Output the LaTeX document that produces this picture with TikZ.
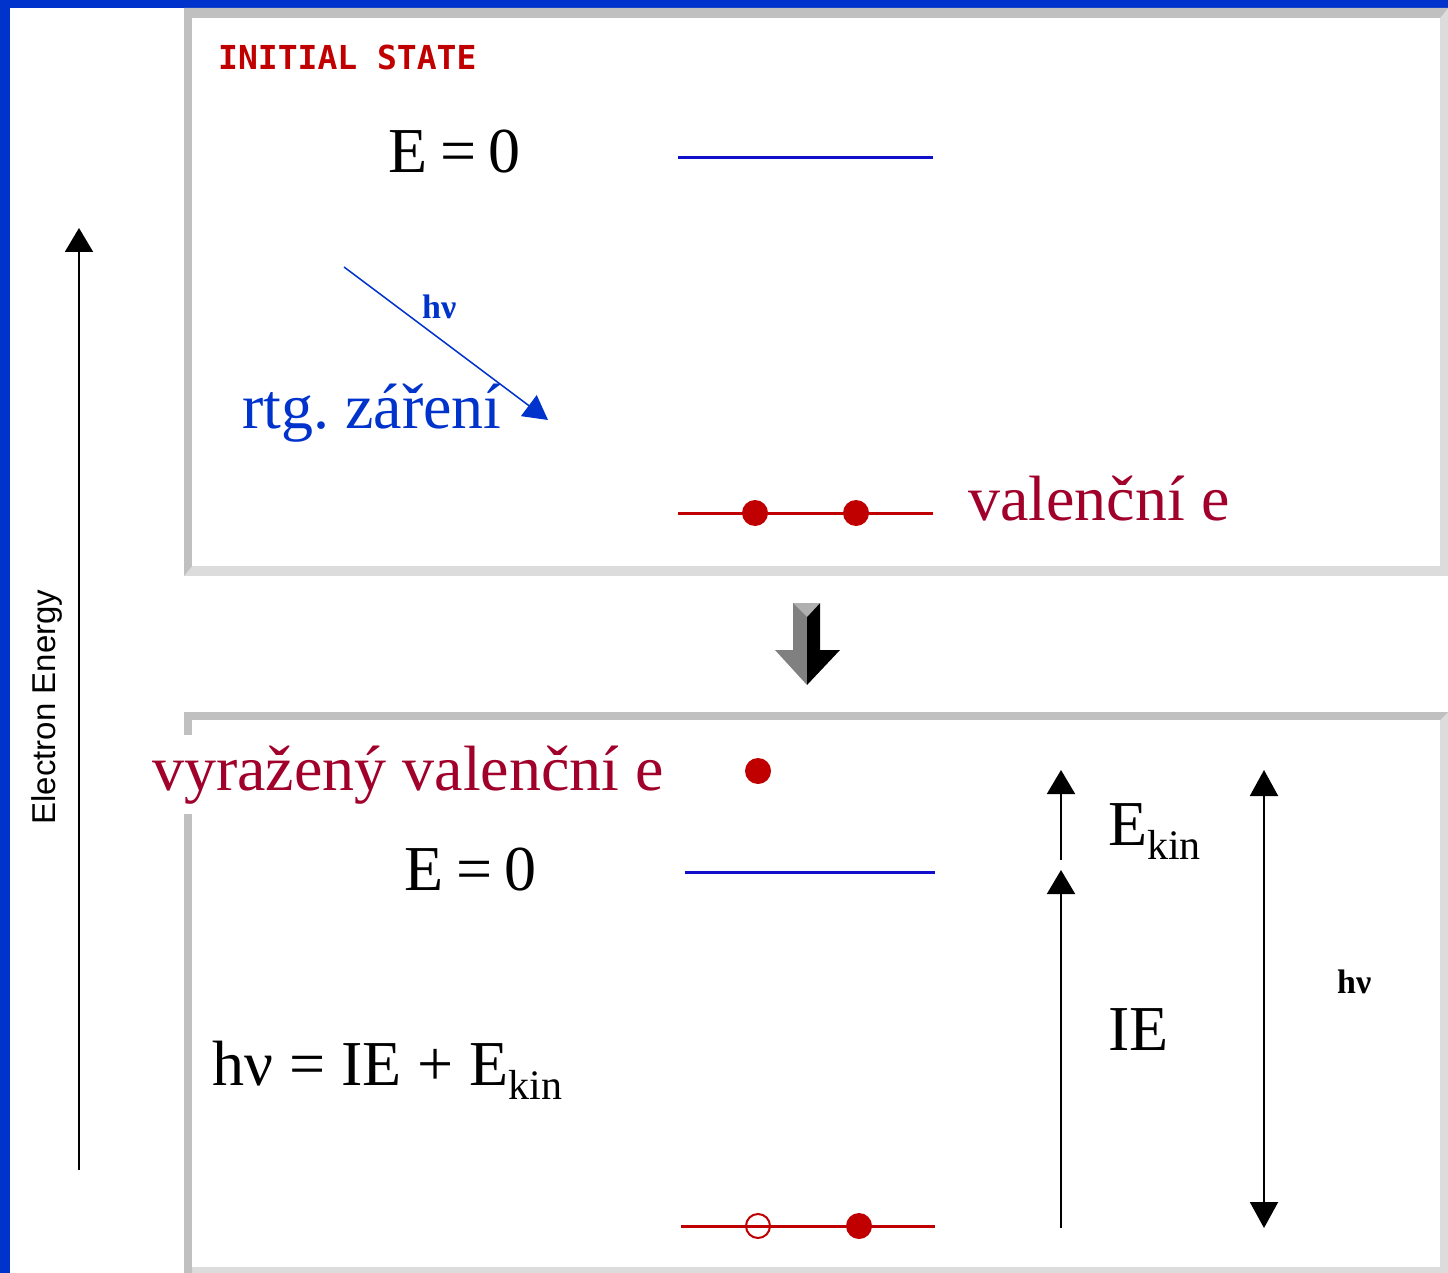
\documentclass[tikz,border=0pt]{standalone}
\usepackage{fontspec}
\setmainfont{Liberation Serif}
\newfontfamily\axisfont{Liberation Sans}
\newfontfamily\pixfont{DejaVu Sans Mono}
\usepackage{xcolor}
\usetikzlibrary{arrows.meta}

\definecolor{frameblue}{HTML}{0033CC}
\definecolor{paneldark}{HTML}{C0C0C0}
\definecolor{panellight}{HTML}{DCDCDC}
\definecolor{statered}{HTML}{C00000}
\definecolor{textred}{HTML}{A0002A}
\definecolor{lineblue}{HTML}{1010CC}
\definecolor{rayblue}{HTML}{0033CC}
\definecolor{arrowgray}{HTML}{808080}
\definecolor{arrowlight}{HTML}{B0B0B0}

\newcommand{\bigtext}{\fontsize{64}{64}\selectfont}
\newcommand{\ekin}{E\raisebox{-0.22em}{\fontsize{42}{42}\selectfont kin}}
\newcommand{\ezero}{E\hspace{0.2em}=\hspace{0.2em}0}

\tikzset{
  big/.style={anchor=base west,inner sep=0pt,font=\bigtext},
  small/.style={anchor=base west,inner sep=0pt,font=\bfseries\fontsize{34}{34}\selectfont},
  edot/.style={circle,fill=statered,inner sep=0pt,minimum size=26pt},
  ehole/.style={circle,draw=statered,line width=2pt,inner sep=0pt,minimum size=24pt},
  level/.style={line width=3pt},
  uparrow/.style={line width=2pt,-{Triangle[width=28pt,length=24pt]}},
}

\begin{document}
\begin{tikzpicture}[x=1pt,y=-1pt]
\useasboundingbox (0,0) rectangle (1448,1273);
% frame
\fill[frameblue] (0,0) rectangle (1448,8);
\fill[frameblue] (0,0) rectangle (10,1273);
% initial state panel
\fill[panellight] (184,8) rectangle (1448,576);
\fill[paneldark] (184,8) -- (1448,8) -- (1440,18) -- (192,18) -- (192,566) -- (184,576) -- cycle;
\fill[white] (192,18) rectangle (1440,566);
% final state panel
\fill[panellight] (184,712) rectangle (1448,1273);
\fill[paneldark] (184,712) -- (1448,712) -- (1440,720) -- (192,720) -- (192,1273) -- (184,1273) -- cycle;
\fill[white] (192,720) rectangle (1440,1267);

% energy axis
\coordinate (axbot) at (79,1170);
\coordinate (axtop) at (79,228);
\draw[uparrow] (axbot) -- (axtop);
\node[rotate=90,anchor=base,inner sep=0pt,font=\axisfont\fontsize{33}{33}\selectfont] (axlabel) at (55,707) {Electron Energy};

% initial state
\node[anchor=base west,inner sep=0pt,text=statered,font=\pixfont\bfseries\fontsize{33}{33}\selectfont] (title) at (218,70) {INITIAL STATE};
\node[big] (ezero1) at (388,173) {\ezero};
\draw[lineblue,level] (678,158) -- (933,158);
\coordinate (raystart) at (344,267);
\coordinate (rayend) at (548,420);
\draw[rayblue,line width=1.5pt,-{Triangle[width=26pt,length=24pt]}] (raystart) -- (rayend);
\node[small,text=rayblue] (hvray) at (422,318) {hν};
\node[big,text=rayblue] (rtg) at (242,428) {rtg.\ záření};
\draw[statered,level] (678,513) -- (933,513);
\node[edot] (val1) at (755,513) {};
\node[edot] (val2) at (856,513) {};
\node[big,text=textred] (vallabel) at (968,520) {valenční e};

% step arrow
\fill[arrowgray] (793,603) -- (807,603) -- (807,685) -- (775,650) -- (793,650) -- cycle;
\fill[black] (807,603) -- (820,603) -- (820,650) -- (840,650) -- (807,685) -- cycle;
\fill[arrowlight] (793,603) -- (820,603) -- (807,617) -- cycle;

% final state
\node[big,text=textred,fill=white,inner ysep=10pt] (outlabel) at (152,790) {vyražený valenční e};
\node[edot] (freee) at (758,771) {};
\node[big] (ezero2) at (404,890) {\ezero};
\draw[lineblue,level] (685,872) -- (935,872);
\draw[statered,level] (681,1226) -- (935,1226);
\node[ehole] (hole) at (758,1226) {};
\node[edot] (val3) at (859,1226) {};
\node[big] (balance) at (212,1085) {hν = IE + \ekin};

\coordinate (iebot) at (1061,1228);
\coordinate (ietop) at (1061,870);
\coordinate (kinbot) at (1061,860);
\coordinate (kintop) at (1061,770);
\draw[uparrow] (iebot) -- (ietop);
\draw[uparrow] (kinbot) -- (kintop);
\node[big] (ekinlabel) at (1108,845) {\ekin};
\node[big] (ielabel) at (1108,1050) {IE};
\coordinate (hvtop) at (1264,770);
\coordinate (hvbot) at (1264,1228);
\draw[line width=2pt,{Triangle[width=28pt,length=26pt]}-{Triangle[width=28pt,length=26pt]}] (hvtop) -- (hvbot);
\node[small] (hvlabel) at (1337,993) {hν};
\end{tikzpicture}
\end{document}
